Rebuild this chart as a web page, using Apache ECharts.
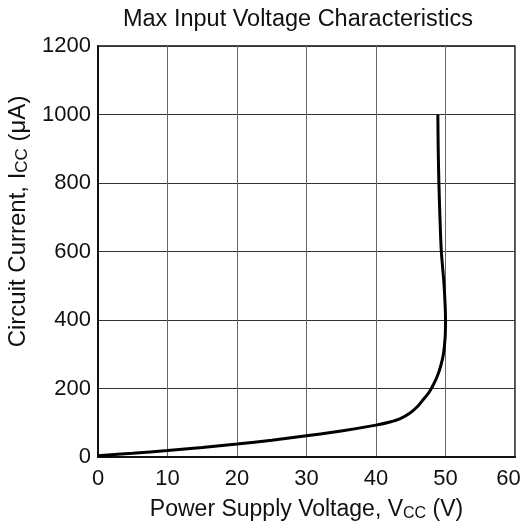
<!DOCTYPE html>
<html><head><meta charset="utf-8">
<script src="https://cdn.jsdelivr.net/npm/echarts@6/dist/echarts.min.js"></script>
<style>html,body{margin:0;padding:0;background:#fff}#c{width:523px;height:527px}</style>
</head><body><div id="c"></div>
<script>
const titleText = 'Max Input Voltage Characteristics';
const vcc = [0, 5, 10, 15, 20, 25, 30, 35, 40, 42, 43.5, 45, 46, 46.8, 47.5, 48.1, 48.8, 49.3, 49.7, 49.95, 50.0, 49.8, 49.4, 49.2, 49.05, 48.95, 48.9];
const icc = [4, 11, 19, 28, 38, 49, 62, 76, 93, 102, 112, 130, 148, 168, 185, 205, 235, 265, 300, 350, 400, 500, 600, 700, 800, 900, 1000];
const xTicks = [0, 10, 20, 30, 40, 50, 60];
const yTicks = [0, 200, 400, 600, 800, 1000, 1200];

const font = 'Liberation Sans, Arial, sans-serif';
const chart = echarts.init(document.getElementById('c'), null, {renderer: 'canvas'});
const pts = vcc.map((v, i) => [v, icc[i]]);
const xNameRich = {
  n: {fontFamily: font, fontSize: 23, color: '#111'},
  s: {fontFamily: font, fontSize: 16, color: '#111', padding: [9, 0, 0, 0]}
};
const yNameRich = {
  n: {fontFamily: font, fontSize: 24, color: '#111'},
  s: {fontFamily: font, fontSize: 17, color: '#111', padding: [9, 0, 0, 0]}
};
const lblStyle = {fontFamily: font, fontSize: 22, color: '#111'};
chart.setOption({
  animation: false,
  title: {text: titleText, left: 293, top: 3, textAlign: 'center',
    textStyle: {fontFamily: font, fontSize: 23.5, fontWeight: 'normal', color: '#111'}},
  grid: {left: 98, right: 8, top: 46, bottom: 70, containLabel: false, outerBoundsMode: 'none',
    show: true, borderColor: '#111', borderWidth: 1.5, backgroundColor: 'transparent'},
  xAxis: {type: 'value', min: xTicks[0], max: xTicks[xTicks.length - 1], interval: 10,
    axisLine: {show: true, onZero: false, lineStyle: {color: '#111', width: 2}},
    axisTick: {show: false},
    axisLabel: Object.assign({}, lblStyle, {margin: 11,
      formatter: v => v === xTicks[xTicks.length - 1] ? '{r|' + v + '}' : String(v),
      rich: {r: Object.assign({}, lblStyle, {padding: [0, 13, 0, 0]})}}),
    splitLine: {show: true, lineStyle: {color: '#666', width: 1}},
    name: '{n|Power Supply Voltage, V}{s|CC}{n| (V)}', nameLocation: 'middle', nameGap: 40,
    nameTextStyle: {rich: xNameRich}},
  yAxis: {type: 'value', min: yTicks[0], max: yTicks[yTicks.length - 1], interval: 200,
    axisLine: {show: true, lineStyle: {color: '#111', width: 2}},
    axisTick: {show: false},
    axisLabel: Object.assign({}, lblStyle, {margin: 7, formatter: v => String(v)}),
    splitLine: {show: true, lineStyle: {color: '#333', width: 1}},
    name: '{n|Circuit Current, I}{s|CC}{n| (μA)}', nameLocation: 'middle', nameGap: 66,
    nameTextStyle: {rich: yNameRich, padding: [0, 0, 0, 60]}},
  series: [{type: 'line', data: pts, showSymbol: false, smooth: 0.3,
    lineStyle: {color: '#000', width: 3}}]
});
</script>
</body></html>
